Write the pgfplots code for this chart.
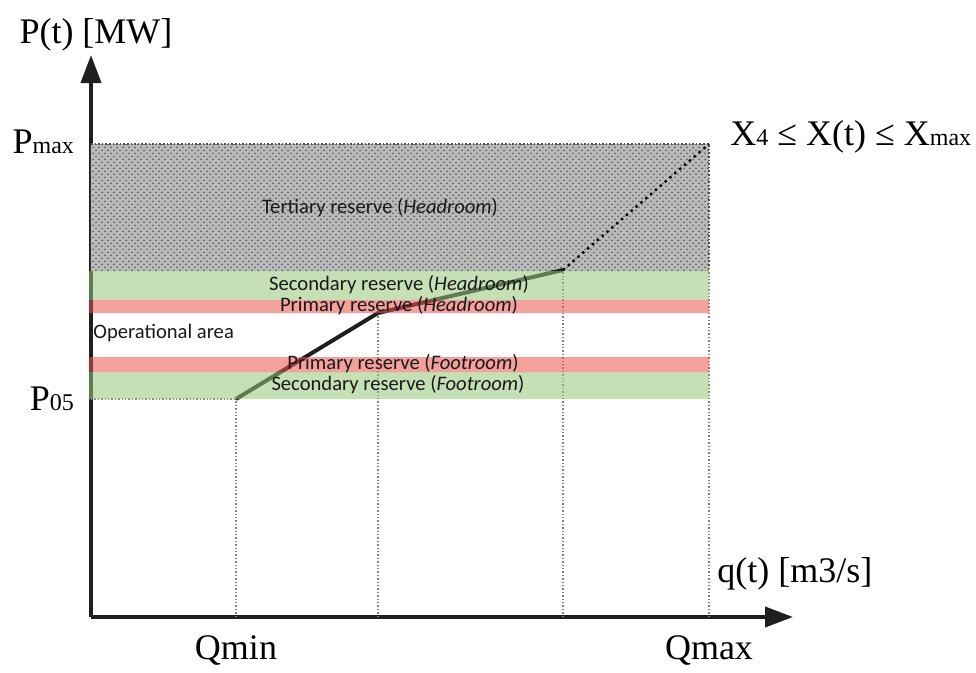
\documentclass[border=0pt]{standalone}
\usepackage{pgfplots}
\pgfplotsset{compat=1.18}
\usepackage{fontspec}
\setmainfont{Liberation Serif}
\newfontfamily\calibri{Carlito}
\usetikzlibrary{patterns,arrows.meta}

\definecolor{bandgreen}{RGB}{150,199,119}
\definecolor{bandred}{RGB}{235,82,75}

\newcommand{\lbl}{\fontsize{18}{20}\selectfont}
\newcommand{\sub}{\fontsize{12}{12}\selectfont}

\begin{document}
\begin{tikzpicture}
\begin{axis}[
  scale only axis,
  width=351pt, height=281pt,
  xmin=0, xmax=702, ymin=0, ymax=562,
  axis lines=left,
  axis line style={line width=2pt, black!88, -{Triangle[length=14pt,width=10pt]}},
  clip=false,
  xtick={145,618}, xticklabels={Qmin,Qmax},
  ytick={218,473},
  yticklabels={{P{\sub 05}},{\raisebox{2.5pt}{P{\sub max}}}},
  major tick length=0pt,
  tick label style={font=\lbl},
  xticklabel style={yshift=-6pt},
  yticklabel style={xshift=-5pt},
]
% invisible frame to keep the page proportions
\path (axis cs:-91,-54) rectangle (axis cs:885,617);

% tertiary reserve area
\addplot[draw=none, fill=black!27, postaction={pattern=crosshatch dots, pattern color=black!60}]
  coordinates {(0,346)(618,346)(618,473)(0,473)(0,346)};
\addplot[black!70, densely dotted, line width=0.8pt]
  coordinates {(0,473)(618,473)(618,346)};

% guide lines
\addplot[gray, densely dotted, line width=0.7pt] coordinates {(145,0)(145,218)};
\addplot[gray, densely dotted, line width=0.7pt] coordinates {(287,0)(287,304)};
\addplot[gray, densely dotted, line width=0.7pt] coordinates {(472,0)(472,347)};
\addplot[gray, densely dotted, line width=0.7pt] coordinates {(618,0)(618,346)};
\addplot[gray, densely dotted, line width=0.7pt] coordinates {(0,218)(145,218)};

% operating curve
\addplot[black!88, line width=2pt] coordinates {(145,218)(287,304)(472,347)};
\addplot[black, dotted, line width=1.2pt] coordinates {(472,347)(618,473)};

% reserve bands
\addplot[draw=none, fill=bandgreen, fill opacity=0.55] coordinates {(-2,317)(618,317)(618,346)(-2,346)(-2,317)};
\addplot[draw=none, fill=bandred, fill opacity=0.55] coordinates {(-2,304)(618,304)(618,317)(-2,317)(-2,304)};
\addplot[draw=none, fill=bandred, fill opacity=0.55] coordinates {(-2,245)(618,245)(618,260)(-2,260)(-2,245)};
\addplot[draw=none, fill=bandgreen, fill opacity=0.55] coordinates {(-2,218)(618,218)(618,245)(-2,245)(-2,218)};

\begin{scope}[every node/.style={font=\calibri\fontsize{10.3}{11}\selectfont, text=black!90, inner sep=0pt}]
\node at (axis cs:289,409) {Tertiary reserve (\textit{Headroom})};
\node at (axis cs:308,332) {Secondary reserve (\textit{Headroom})};
\node at (axis cs:308,311) {Primary reserve (\textit{Headroom})};
\node[anchor=west] at (axis cs:2,284) {Operational area};
\node at (axis cs:312,253) {Primary reserve (\textit{Footroom})};
\node at (axis cs:307,232) {Secondary reserve (\textit{Footroom})};
\end{scope}

\node[anchor=base, inner sep=0pt, font=\lbl] at (axis cs:5,574) {P(t) [MW]};
\node[anchor=base west, inner sep=0pt, font=\lbl] at (axis cs:639,472) {X{\sub 4} ≤ X(t) ≤ X{\sub max}};
\node[anchor=base west, inner sep=0pt, font=\lbl] at (axis cs:626,35) {q(t) [m3/s]};
\end{axis}
\end{tikzpicture}
\end{document}
